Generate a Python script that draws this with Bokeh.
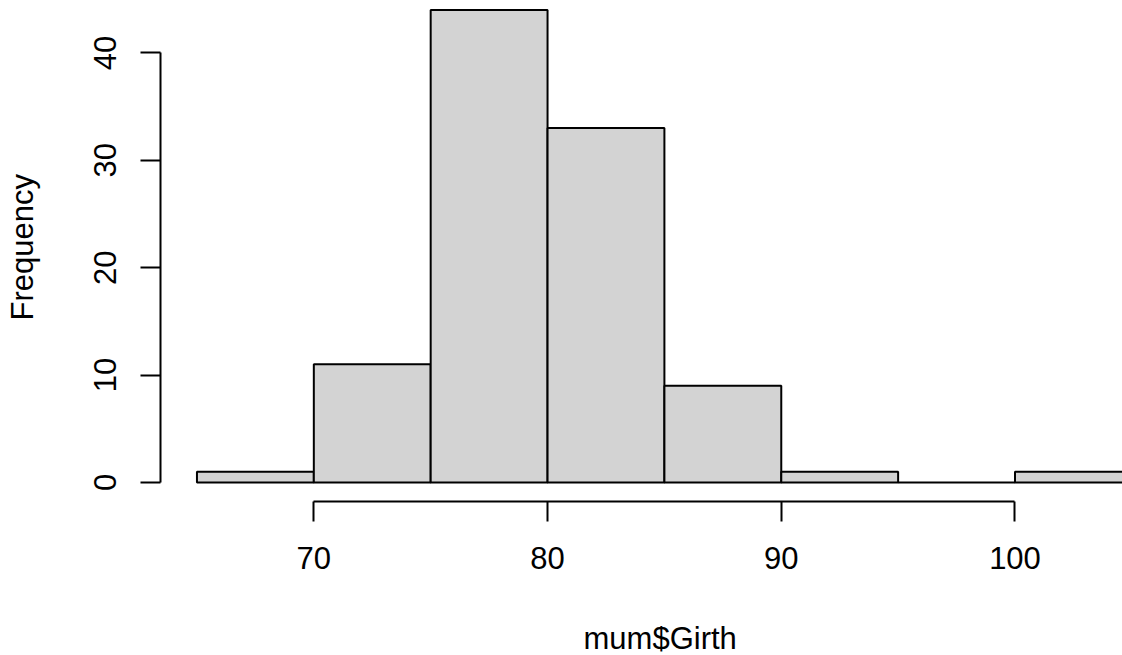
import numpy as np
from bokeh.plotting import figure
from bokeh.models import Range1d, FixedTicker, ColumnDataSource, Title
from bokeh.embed import file_html
from bokeh.resources import INLINE

# Histogram of mum$Girth
bin_left = [65, 70, 75, 80, 85, 90, 95, 100]
bin_right = [70, 75, 80, 85, 90, 95, 100, 105]
counts = [1, 11, 44, 33, 9, 1, 0, 1]
x_ticks = [70, 80, 90, 100]
y_ticks = [0, 10, 20, 30, 40]
x_label = "mum$Girth"
y_label = "Frequency"

FONT = "Liberation Sans"
FS = "31px"

p = figure(width=1122, height=655, output_backend="svg", toolbar_location=None,
           x_range=Range1d(63.44, 104.60), y_range=Range1d(-1.77, 44.88),
           min_border_left=160, min_border_right=0, min_border_top=0,
           min_border_bottom=154, title=None)
p.outline_line_color = None
p.xgrid.visible = False
p.ygrid.visible = False
p.background_fill_color = "white"
p.border_fill_color = "white"

src = ColumnDataSource(dict(left=bin_left, right=bin_right, top=counts,
                            bottom=[0] * len(counts)))
p.quad(left="left", right="right", top="top", bottom="bottom", source=src,
       fill_color="#D3D3D3", line_color="black", line_width=2)

for ax, ticks, bnds in ((p.xaxis[0], x_ticks, (70, 100)), (p.yaxis[0], y_ticks, (0, 40))):
    ax.ticker = FixedTicker(ticks=ticks)
    ax.bounds = bnds
    ax.axis_line_width = 2
    ax.axis_line_color = "black"
    ax.major_tick_line_width = 2
    ax.major_tick_line_color = "black"
    ax.major_tick_out = 20
    ax.major_tick_in = 0
    ax.minor_tick_out = 0
    ax.minor_tick_in = 0
    ax.major_label_text_font = FONT
    ax.major_label_text_font_size = FS
    ax.major_label_text_color = "black"

p.xaxis.major_label_standoff = 25
p.yaxis.major_label_standoff = 24
p.yaxis.major_label_orientation = "vertical"

# spacer panels between the axes and their titles
p.add_layout(Title(text=" ", text_font_size="1px", standoff=44), "below")
p.add_layout(Title(text=" ", text_font_size="1px", standoff=49), "left")

p.add_layout(Title(text=x_label, align="left", offset=423, text_font=FONT,
                   text_font_size=FS, text_font_style="normal", text_color="black",
                   standoff=0), "below")
p.add_layout(Title(text=y_label, align="left", offset=181, text_font=FONT,
                   text_font_size=FS, text_font_style="normal", text_color="black",
                   standoff=0), "left")

open("out.html", "w").write(file_html(p, INLINE))
